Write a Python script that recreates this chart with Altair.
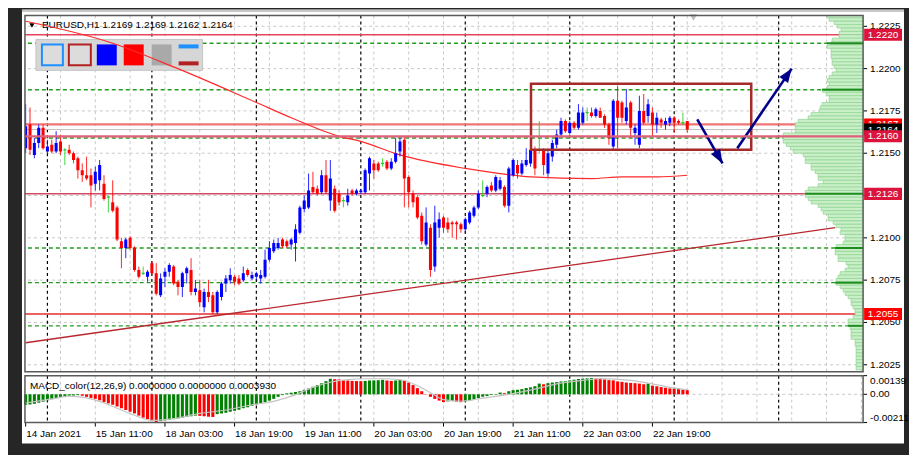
import altair as alt
import pandas as pd
import numpy as np

FONT = "Liberation Sans"

# ---------------- EURUSD H1 candles ----------------
open_ = [1.2153,1.2167,1.2149,1.2156,1.2165,1.2151,1.2155,1.2151,1.2157,1.2152,
 1.2152,1.2150,1.2147,1.2140,1.2137,1.2137,1.2132,1.2134,1.2132,1.2124,
 1.2121,1.2118,1.2098,1.2094,1.2100,1.2094,1.2081,1.2079,1.2077,1.2085,
 1.2079,1.2066,1.2077,1.2080,1.2083,1.2074,1.2071,1.2079,1.2081,1.2068,
 1.2069,1.2059,1.2068,1.2066,1.2056,1.2065,1.2073,1.2075,1.2077,1.2076,
 1.2075,1.2081,1.2076,1.2077,1.2076,1.2077,1.2087,1.2092,1.2094,1.2099,
 1.2098,1.2096,1.2097,1.2103,1.2117,1.2118,1.2130,1.2129,1.2127,1.2137,
 1.2122,1.2129,1.2126,1.2122,1.2121,1.2128,1.2126,1.2127,1.2127,1.2138,
 1.2144,1.2144,1.2144,1.2145,1.2141,1.2145,1.2151,1.2158,1.2136,1.2126,
 1.2124,1.2113,1.2096,1.2106,1.2083,1.2106,1.2112,1.2109,1.2109,1.2109,
 1.2108,1.2105,1.2109,1.2113,1.2118,1.2125,1.2126,1.2131,1.2128,1.2129,
 1.2130,1.2119,1.2137,1.2143,1.2138,1.2143,1.2144,1.2152,1.2152,1.2152,
 1.2138,1.2148,1.2155,1.2161,1.2169,1.2162,1.2168,1.2165,1.2168,1.2174,
 1.2174,1.2172,1.2175,1.2172,1.2167,1.2154,1.2181,1.2180,1.2169,1.2180,
 1.2162,1.2155,1.2175,1.2172,1.2174,1.2167,1.2170,1.2167,1.2168,1.2171,
 1.2169,1.2168,1.2169]
high = [1.2179,1.2177,1.2159,1.2167,1.2167,1.2158,1.2158,1.2163,1.2161,1.2153,
 1.2155,1.2151,1.2148,1.2144,1.2148,1.2141,1.2142,1.2146,1.2137,1.2125,
 1.2134,1.2119,1.2100,1.2100,1.2101,1.2095,1.2083,1.2083,1.2081,1.2086,
 1.2085,1.2079,1.2082,1.2085,1.2084,1.2075,1.2080,1.2083,1.2088,1.2075,
 1.2075,1.2070,1.2075,1.2068,1.2069,1.2074,1.2078,1.2082,1.2078,1.2078,
 1.2083,1.2082,1.2080,1.2080,1.2081,1.2093,1.2098,1.2099,1.2100,1.2100,
 1.2099,1.2100,1.2108,1.2119,1.2125,1.2138,1.2139,1.2131,1.2140,1.2146,
 1.2146,1.2131,1.2128,1.2124,1.2129,1.2129,1.2129,1.2129,1.2141,1.2148,
 1.2146,1.2145,1.2147,1.2146,1.2147,1.2159,1.2159,1.2160,1.2137,1.2128,
 1.2125,1.2115,1.2118,1.2108,1.2119,1.2115,1.2113,1.2112,1.2110,1.2110,
 1.2109,1.2112,1.2116,1.2119,1.2128,1.2134,1.2131,1.2133,1.2137,1.2136,
 1.2131,1.2142,1.2147,1.2146,1.2146,1.2153,1.2155,1.2154,1.2169,1.2153,
 1.2152,1.2158,1.2164,1.2171,1.2170,1.2169,1.2169,1.2179,1.2177,1.2177,
 1.2177,1.2177,1.2177,1.2173,1.2168,1.2182,1.2190,1.2181,1.2188,1.2181,
 1.2167,1.2184,1.2185,1.2182,1.2177,1.2174,1.2171,1.2171,1.2172,1.2172,
 1.2170,1.2174,1.2169]
low = [1.2150,1.2149,1.2147,1.2153,1.2152,1.2150,1.2150,1.2150,1.2149,1.2143,
 1.2149,1.2144,1.2135,1.2133,1.2134,1.2118,1.2128,1.2128,1.2122,1.2115,
 1.2115,1.2098,1.2082,1.2088,1.2093,1.2080,1.2076,1.2078,1.2074,1.2078,
 1.2066,1.2065,1.2071,1.2077,1.2072,1.2066,1.2065,1.2073,1.2066,1.2066,
 1.2059,1.2056,1.2062,1.2055,1.2055,1.2063,1.2068,1.2073,1.2072,1.2072,
 1.2074,1.2077,1.2075,1.2075,1.2073,1.2076,1.2086,1.2091,1.2093,1.2094,
 1.2094,1.2093,1.2086,1.2102,1.2115,1.2117,1.2126,1.2125,1.2126,1.2126,
 1.2116,1.2115,1.2119,1.2118,1.2119,1.2125,1.2125,1.2126,1.2126,1.2128,
 1.2135,1.2139,1.2142,1.2140,1.2140,1.2144,1.2148,1.2118,1.2118,1.2118,
 1.2111,1.2096,1.2095,1.2077,1.2080,1.2100,1.2103,1.2103,1.2100,1.2099,
 1.2103,1.2103,1.2108,1.2112,1.2117,1.2124,1.2124,1.2127,1.2127,1.2128,
 1.2118,1.2115,1.2136,1.2135,1.2137,1.2142,1.2142,1.2137,1.2150,1.2137,
 1.2136,1.2145,1.2153,1.2160,1.2162,1.2161,1.2164,1.2164,1.2167,1.2169,
 1.2171,1.2171,1.2171,1.2165,1.2155,1.2152,1.2153,1.2168,1.2167,1.2159,
 1.2155,1.2153,1.2167,1.2168,1.2160,1.2162,1.2165,1.2164,1.2166,1.2162,
 1.2167,1.2167,1.2162]
close = [1.2166,1.2152,1.2156,1.2165,1.2153,1.2154,1.2151,1.2156,1.2151,1.2152,
 1.2150,1.2146,1.2140,1.2137,1.2135,1.2131,1.2139,1.2143,1.2123,1.2124,
 1.2116,1.2099,1.2094,1.2099,1.2094,1.2081,1.2077,1.2079,1.2080,1.2079,
 1.2067,1.2076,1.2080,1.2084,1.2073,1.2071,1.2079,1.2082,1.2068,1.2070,
 1.2062,1.2068,1.2065,1.2056,1.2068,1.2073,1.2076,1.2078,1.2074,1.2073,
 1.2079,1.2078,1.2078,1.2079,1.2078,1.2087,1.2094,1.2097,1.2097,1.2095,
 1.2095,1.2099,1.2105,1.2118,1.2122,1.2128,1.2127,1.2126,1.2137,1.2127,
 1.2135,1.2116,1.2121,1.2122,1.2125,1.2126,1.2128,1.2128,1.2140,1.2147,
 1.2140,1.2140,1.2144,1.2141,1.2145,1.2150,1.2157,1.2135,1.2127,1.2121,
 1.2112,1.2098,1.2109,1.2081,1.2109,1.2111,1.2106,1.2105,1.2108,1.2108,
 1.2105,1.2111,1.2115,1.2118,1.2126,1.2125,1.2130,1.2128,1.2136,1.2134,
 1.2119,1.2141,1.2146,1.2138,1.2144,1.2146,1.2152,1.2141,1.2152,1.2143,
 1.2150,1.2156,1.2161,1.2169,1.2163,1.2168,1.2165,1.2174,1.2174,1.2174,
 1.2172,1.2176,1.2171,1.2167,1.2159,1.2181,1.2171,1.2171,1.2177,1.2165,
 1.2165,1.2175,1.2168,1.2179,1.2167,1.2171,1.2168,1.2169,1.2171,1.2168,
 1.2168,1.2168,1.2164]
bar_index = list(range(len(close)))

# ---------------- time axis ----------------
date_ticks = [0, 16, 32, 48, 64, 80, 96, 112, 128, 144]
date_labels = ["14 Jan 2021", "15 Jan 11:00", "18 Jan 03:00", "18 Jan 19:00", "19 Jan 11:00",
               "20 Jan 03:00", "20 Jan 19:00", "21 Jan 11:00", "22 Jan 03:00", "22 Jan 19:00"]
day_starts = [5, 29, 53, 77, 101, 125, 149, 173]
grid_idx = [8, 16, 24, 32, 40, 48, 56, 64, 72, 80, 88, 96, 104, 112, 120, 128,
            136, 144, 152, 160, 168, 176, 184, 192]
price_ticks = [1.2025, 1.2050, 1.2075, 1.2100, 1.2125, 1.2150, 1.2175, 1.2200, 1.2225]

# ---------------- indicators / drawings ----------------
ma_idx = [0, 20, 34, 53, 61, 72, 77, 86, 101, 109, 116, 130, 137, 145, 152]
ma_val = [1.2228, 1.2215, 1.2201, 1.2180, 1.2171, 1.2160, 1.2157, 1.2149, 1.2141,
          1.2138, 1.2136, 1.2135, 1.2136, 1.2136, 1.2137]
trend_idx = [0, 186]
trend_val = [1.2038, 1.2106]
red_levels = [1.2220, 1.2167, 1.2126, 1.2055]
key_level = [1.2160]
bid_level = [1.2164]
green_levels = [1.2215, 1.21875, 1.2159, 1.2094, 1.20735, 1.2048]
box_idx = [116.1, 166.7]
box_val = [1.2191, 1.2152]
arrow_x0 = [154.3, 163.5]
arrow_p0 = [1.2170, 1.2153]
arrow_x1 = [160.1, 176.0]
arrow_p1 = [1.2144, 1.2200]
arrow_heading = [150, 35]

# volume profile (2-pip bins from the top)
profile_vol = [36,34,29,26,22,24,24,31,32,36,
 32,32,32,31,31,29,27,31,34,36,
 34,36,41,37,34,34,41,43,44,52,
 55,65,68,68,68,80,80,80,77,73,
 70,60,58,58,52,52,48,45,45,40,
 45,55,58,58,55,52,45,42,40,35,
 35,30,27,22,23,18,18,20,27,28,
 28,25,25,17,15,18,23,25,27,27,
 23,20,18,15,12,12,10,8,8,10,
 15,15,13,12,12,12,8,8,7,7,
 7,7,7,7,7]
profile_levels = [round(1.2231 - 0.0002 * k, 4) for k in range(len(profile_vol))]
poc_levels = [1.2215, 1.21875, 1.2126, 1.2094, 1.20735, 1.2048]
poc_vol = [36, 41, 58, 28, 28, 15]

tag_price = [1.2220, 1.2126, 1.2055, 1.2167, 1.2164, 1.2160]

# ---------------- MACD ----------------
macd_hist = [
 -0.00078,-0.00076,-0.00071,-0.00063,-0.00055,-0.00045,-0.00037,-0.00029,-0.00022,-0.00016,
 -0.00011,-0.00009,-0.00006,-0.00011,-0.00019,-0.00027,-0.00034,-0.00045,-0.00058,-0.00068,
 -0.00078,-0.00091,-0.00104,-0.00117,-0.00130,-0.00143,-0.00159,-0.00174,-0.00187,-0.00200,
 -0.00208,-0.00200,-0.00195,-0.00190,-0.00185,-0.00180,-0.00174,-0.00169,-0.00164,-0.00159,
 -0.00161,-0.00164,-0.00167,-0.00169,-0.00148,-0.00143,-0.00138,-0.00130,-0.00123,-0.00115,
 -0.00104,-0.00097,-0.00086,-0.00076,-0.00066,-0.00058,-0.00047,-0.00034,-0.00019,-0.00006,
 0.00007,0.00012,0.00017,0.00023,0.00033,0.00043,0.00056,0.00069,0.00082,0.00098,
 0.00116,0.00113,0.00111,0.00105,0.00103,0.00100,0.00099,0.00098,0.00100,0.00103,
 0.00104,0.00105,0.00108,0.00103,0.00100,0.00103,0.00108,0.00100,0.00087,0.00069,
 0.00046,0.00023,0.00002,-0.00019,-0.00034,-0.00047,-0.00058,-0.00053,-0.00050,-0.00055,
 -0.00059,-0.00052,-0.00047,-0.00039,-0.00028,-0.00018,-0.00013,-0.00005,-0.00003,0.00013,
 0.00008,0.00023,0.00031,0.00034,0.00039,0.00047,0.00052,0.00060,0.00080,0.00075,
 0.00083,0.00088,0.00091,0.00096,0.00098,0.00104,0.00109,0.00114,0.00117,0.00119,
 0.00122,0.00117,0.00114,0.00111,0.00106,0.00104,0.00096,0.00093,0.00088,0.00085,
 0.00083,0.00080,0.00075,0.00080,0.00065,0.00060,0.00054,0.00049,0.00044,0.00041,
 0.00039,0.00034,0.00031]
signal_idx = [0,6,10,14,17,21,25,29,34,40,46,52,57,61,66,70,74,78,83,87,90,93,96,100,
              104,111,117,122,128,132,139,144,148,152]
signal_val = [-0.00066,-0.00034,-0.00014,-0.00027,-0.00053,-0.00104,-0.00156,-0.00195,
              -0.00182,-0.00143,-0.00117,-0.00078,-0.00053,-0.00014,0.00051,0.00090,0.00110,
              0.00116,0.00116,0.00103,0.00064,0.00012,-0.00040,-0.00052,-0.00034,0.00000,
              0.00039,0.00078,0.00104,0.00117,0.00104,0.00078,0.00052,0.00034]
macd_ticks = [0.00139, 0.0, -0.00211]
macd_tick_labels = ["0.00139", "0.00", "-0.00211"]

# ---------------- scales / sizes ----------------
W, H, MH = 840, 357, 47
XS = alt.Scale(domain=[-0.16, 192.4], nice=False, zero=False)
YS = alt.Scale(domain=[1.20209, 1.22314], nice=False, zero=False)
PS = alt.Scale(domain=[0, 840], reverse=True, nice=False, zero=False)
MS = alt.Scale(domain=[-0.00211, 0.00139], nice=False, zero=False)

one = pd.DataFrame({"k": [0]})


def vrect(x, x2, y, y2, **mk):
    return alt.Chart(one).mark_rect(**mk).encode(
        x=alt.value(x), x2=alt.value(x2), y=alt.value(y), y2=alt.value(y2))


def hrule(values, **mk):
    return alt.Chart(pd.DataFrame({"p": values})).mark_rule(**mk).encode(
        y=alt.Y("p:Q", scale=YS, axis=None))


def vrule(values, **mk):
    return alt.Chart(pd.DataFrame({"i": values})).mark_rule(**mk).encode(
        x=alt.X("i:Q", scale=XS, axis=None))


def txt(**mk):
    base = dict(font=FONT, fontSize=10, color="black")
    base.update(mk)
    return base


# ---------------- main panel ----------------
cdf = pd.DataFrame({"i": bar_index, "open": open_, "high": high, "low": low, "close": close})
cdf["kind"] = np.select([cdf.close > cdf.open, cdf.close < cdf.open], ["bull", "bear"], "doji")
cdf["x0"] = cdf.i - 0.35
cdf["x1"] = cdf.i + 0.35
kind_color = alt.Color("kind:N", scale=alt.Scale(domain=["bull", "bear", "doji"],
                                                 range=["#0000ff", "#ff0000", "#22cc22"]),
                       legend=None)

wicks = alt.Chart(cdf).mark_rule(clip=True, strokeWidth=1, opacity=0.85).encode(
    x=alt.X("i:Q", scale=XS, axis=None), y=alt.Y("low:Q", scale=YS, axis=None),
    y2="high:Q", color=kind_color)
bodies = alt.Chart(cdf[cdf.kind != "doji"]).mark_rect(clip=True).encode(
    x=alt.X("x0:Q", scale=XS, axis=None), x2="x1:Q",
    y=alt.Y("open:Q", scale=YS, axis=None), y2="close:Q", color=kind_color)
dojis = alt.Chart(cdf[cdf.kind == "doji"]).mark_rule(clip=True, strokeWidth=1.3, color="#22cc22").encode(
    x=alt.X("x0:Q", scale=XS, axis=None), x2="x1:Q", y=alt.Y("open:Q", scale=YS, axis=None))

ma = alt.Chart(pd.DataFrame({"i": ma_idx, "p": ma_val})).mark_line(
    color="#ff2a2a", strokeWidth=1.2, interpolate="monotone", clip=True).encode(
    x=alt.X("i:Q", scale=XS, axis=None), y=alt.Y("p:Q", scale=YS, axis=None))
trend = alt.Chart(pd.DataFrame({"i": trend_idx, "p": trend_val})).mark_line(
    color="#b8282e", strokeWidth=1.3).encode(
    x=alt.X("i:Q", scale=XS, axis=None), y=alt.Y("p:Q", scale=YS, axis=None))

box = alt.Chart(pd.DataFrame({"x0": [box_idx[0]], "x1": [box_idx[1]],
                              "p0": [box_val[0]], "p1": [box_val[1]]})).mark_rect(
    filled=False, color="#a52a2a", strokeWidth=2.5).encode(
    x=alt.X("x0:Q", scale=XS, axis=None), x2="x1:Q",
    y=alt.Y("p0:Q", scale=YS, axis=None), y2="p1:Q")

adf = pd.DataFrame({"id": [0, 0, 1, 1],
                    "i": [arrow_x0[0], arrow_x1[0], arrow_x0[1], arrow_x1[1]],
                    "p": [arrow_p0[0], arrow_p1[0], arrow_p0[1], arrow_p1[1]]})
shafts = alt.Chart(adf).mark_line(color="#00008b", strokeWidth=2.6).encode(
    x=alt.X("i:Q", scale=XS, axis=None), y=alt.Y("p:Q", scale=YS, axis=None), detail="id:N")
heads = alt.Chart(pd.DataFrame({"i": arrow_x1, "p": arrow_p1, "ang": arrow_heading})).mark_point(
    shape="M0,0L0.38,1L-0.38,1Z", size=784, filled=True, color="#00008b", opacity=1,
    strokeWidth=0).encode(
    x=alt.X("i:Q", scale=XS, axis=None), y=alt.Y("p:Q", scale=YS, axis=None),
    angle=alt.Angle("ang:Q", scale=None))

title_text = "EURUSD,H1  {:.4f} {:.4f} {:.4f} {:.4f}".format(open_[-1], high[-1], low[-1], close[-1])

red_styles = [("#e8445c", 1.5), ("#f07575", 2.2), ("#d04a64", 1.5), ("#e62e2e", 1.5)]
red_layers = [hrule([lv], color=c, strokeWidth=w) for lv, (c, w) in zip(red_levels, red_styles)]

widget = [
    vrect(11, 178, 24, 55, color="#d6d6d6", stroke="#c4c4c4", strokeWidth=1),
    vrect(17, 38, 29, 50, fill="#dcdcdc", stroke="#1e90ff", strokeWidth=2),
    vrect(44, 66, 29, 50, fill="#dcdcdc", stroke="#b22222", strokeWidth=2),
    vrect(72, 92, 29, 50, color="#0000ff"),
    vrect(99, 119, 29, 50, color="#ff0000"),
    vrect(127, 147, 29, 50, color="#a9a9a9"),
    vrect(154, 174, 29, 33, color="#1e90ff"),
    vrect(154, 174, 46, 50, color="#b22222"),
]

base_layers = [
    vrect(-17, 884, -7, 440, color="#262626"),
    vrect(-3, 881, -6, 429, color="white"),
    vrect(-3, 881, -5.5, -3.5, color="#c8c8c8"),
    hrule(price_ticks, color="#c8c8c8", strokeDash=[3, 3], strokeWidth=1),
    vrule(grid_idx, color="#c8c8c8", strokeDash=[3, 3], strokeWidth=1),
    vrule(day_starts, color="#000000", strokeDash=[3, 3], strokeWidth=1.2),
    hrule(green_levels, color="#1f9e1f", strokeDash=[4, 3], strokeWidth=1.3),
    *red_layers,
    hrule(bid_level, color="#c0c0c0", strokeWidth=1),
    *widget,
    alt.Chart(one).mark_point(shape="triangle-down", size=28, filled=True, color="black",
                              opacity=1).encode(x=alt.value(7), y=alt.value(10)),
    alt.Chart(one).mark_text(**txt(align="left", baseline="middle")).encode(
        x=alt.value(17), y=alt.value(10), text=alt.value(title_text)),
    trend, ma, wicks, bodies, dojis, box, shafts, heads,
]

pdf = pd.DataFrame({"level": profile_levels, "vol": profile_vol})
pdf["base"] = 0
pdf["y0"] = pdf.level - 0.0001
pdf["y1"] = pdf.level + 0.0001
prof = alt.Chart(pdf).mark_rect(clip=True, fill="#c9efc9", stroke="#96d696", strokeWidth=0.8).encode(
    x=alt.X("base:Q", scale=PS, axis=None), x2="vol:Q",
    y=alt.Y("y0:Q", scale=YS, axis=None), y2="y1:Q")
kdf = pd.DataFrame({"level": poc_levels, "vol": poc_vol, "base": 0})
keys = alt.Chart(kdf).mark_rule(color="#1c8c1c", strokeWidth=2).encode(
    x=alt.X("base:Q", scale=PS, axis=None), x2="vol:Q",
    y=alt.Y("level:Q", scale=YS, axis=None))

# price scale labels (right side)
pl_df = pd.DataFrame({"p": price_ticks, "t": [f"{p:.4f}" for p in price_ticks]})
price_ticks_marks = alt.Chart(pl_df).mark_rule(color="black", strokeWidth=1).encode(
    x=alt.value(W), x2=alt.value(W + 4), y=alt.Y("p:Q", scale=YS, axis=None))
price_labels = alt.Chart(pl_df).mark_text(**txt(align="left", baseline="middle")).encode(
    x=alt.value(W + 7), y=alt.Y("p:Q", scale=YS, axis=None), text="t:N")

tag_styles = {1.2220: "#dc143c", 1.2126: "#dc143c", 1.2055: "#ff0000",
              1.2167: "#ff0000", 1.2164: "#000000", 1.2160: "#dc143c"}
BOX_PATH = "M-1,-0.32L1,-0.32L1,0.32L-1,0.32Z"
tag_layers = []
for tp in tag_price:
    tdf = pd.DataFrame({"p": [tp], "t": [f"{tp:.4f}"]})
    tag_layers.append(alt.Chart(tdf).mark_point(
        shape=BOX_PATH, size=1444, filled=True, color=tag_styles[tp], opacity=1,
        strokeWidth=0).encode(x=alt.value(860), y=alt.Y("p:Q", scale=YS, axis=None)))
    tag_layers.append(alt.Chart(tdf).mark_text(
        **txt(color="white", align="center", baseline="middle")).encode(
        x=alt.value(860), y=alt.Y("p:Q", scale=YS, axis=None), text="t:N"))

top_layers = [
    hrule(key_level, color="#e0607a", strokeWidth=2.2),
    price_ticks_marks, price_labels,
    *tag_layers,
    alt.Chart(one).mark_point(shape="triangle-down", size=60, filled=True, color="#bdbdbd",
                              opacity=1).encode(x=alt.value(670), y=alt.value(2)),
    vrect(0, W, 0, H, filled=False, color="#5a5a5a", strokeWidth=1.5),
]

main = alt.layer(
    alt.layer(*base_layers),
    alt.layer(prof, keys),
    alt.layer(*top_layers),
).resolve_scale(x="independent").properties(width=W, height=H)

# ---------------- MACD panel ----------------
mdf = pd.DataFrame({"i": bar_index, "h": macd_hist})
mdf["dir"] = np.where(mdf.h.diff().fillna(1) >= 0, "up", "down")
mdf["x0"] = mdf.i - 0.35
mdf["x1"] = mdf.i + 0.35
mdf["zero"] = 0.0

bars = alt.Chart(mdf).mark_rect().encode(
    x=alt.X("x0:Q", scale=XS, axis=None), x2="x1:Q",
    y=alt.Y("h:Q", scale=MS, axis=None), y2="zero:Q",
    color=alt.Color("dir:N", scale=alt.Scale(domain=["up", "down"], range=["#008000", "#ff0000"]),
                    legend=None))
signal = alt.Chart(pd.DataFrame({"i": signal_idx, "v": signal_val})).mark_line(
    color="#c4c4c4", strokeWidth=1.2, interpolate="monotone").encode(
    x=alt.X("i:Q", scale=XS, axis=None), y=alt.Y("v:Q", scale=MS, axis=None))
zero_line = alt.Chart(pd.DataFrame({"v": [0.0]})).mark_rule(
    color="#c8c8c8", strokeDash=[3, 3]).encode(y=alt.Y("v:Q", scale=MS, axis=None))

dl_df = pd.DataFrame({"i": date_ticks, "t": date_labels})
date_tick_marks = alt.Chart(dl_df).mark_rule(color="black", strokeWidth=1).encode(
    x=alt.X("i:Q", scale=XS, axis=None), y=alt.value(MH), y2=alt.value(MH + 4))
date_text = alt.Chart(dl_df).mark_text(**txt(align="left", baseline="top", dx=0.5)).encode(
    x=alt.X("i:Q", scale=XS, axis=None), y=alt.value(MH + 6), text="t:N")

ml_df = pd.DataFrame({"v": macd_ticks, "t": macd_tick_labels})
macd_tick_marks = alt.Chart(ml_df).mark_rule(color="black", strokeWidth=1).encode(
    x=alt.value(W), x2=alt.value(W + 4), y=alt.Y("v:Q", scale=MS, axis=None))
macd_text = [
    alt.Chart(ml_df.iloc[[0]]).mark_text(**txt(align="left", baseline="top")).encode(
        x=alt.value(W + 7), y=alt.Y("v:Q", scale=MS, axis=None), text="t:N"),
    alt.Chart(ml_df.iloc[[1]]).mark_text(**txt(align="left", baseline="middle")).encode(
        x=alt.value(W + 7), y=alt.Y("v:Q", scale=MS, axis=None), text="t:N"),
    alt.Chart(ml_df.iloc[[2]]).mark_text(**txt(align="left", baseline="bottom")).encode(
        x=alt.value(W + 7), y=alt.Y("v:Q", scale=MS, axis=None), text="t:N"),
]

macd = alt.layer(
    vrule(grid_idx, color="#c8c8c8", strokeDash=[3, 3], strokeWidth=1),
    vrule(day_starts, color="#000000", strokeDash=[3, 3], strokeWidth=1.2),
    zero_line, bars, signal,
    alt.Chart(one).mark_text(**txt(align="left", baseline="middle")).encode(
        x=alt.value(5), y=alt.value(10),
        text=alt.value("MACD_color(12,26,9) 0.0000000 0.0000000 0.0003930")),
    date_tick_marks, date_text, macd_tick_marks, *macd_text,
    vrect(0, W, 0, MH, filled=False, color="#5a5a5a", strokeWidth=1.5),
).properties(width=W, height=MH)

chart = alt.vconcat(main, macd, spacing=4, bounds="flush", padding=0,
                    background="#262626").resolve_scale(color="independent").configure_view(strokeWidth=0)

chart.save("out.html", embed_options={"renderer": "svg", "actions": False})
